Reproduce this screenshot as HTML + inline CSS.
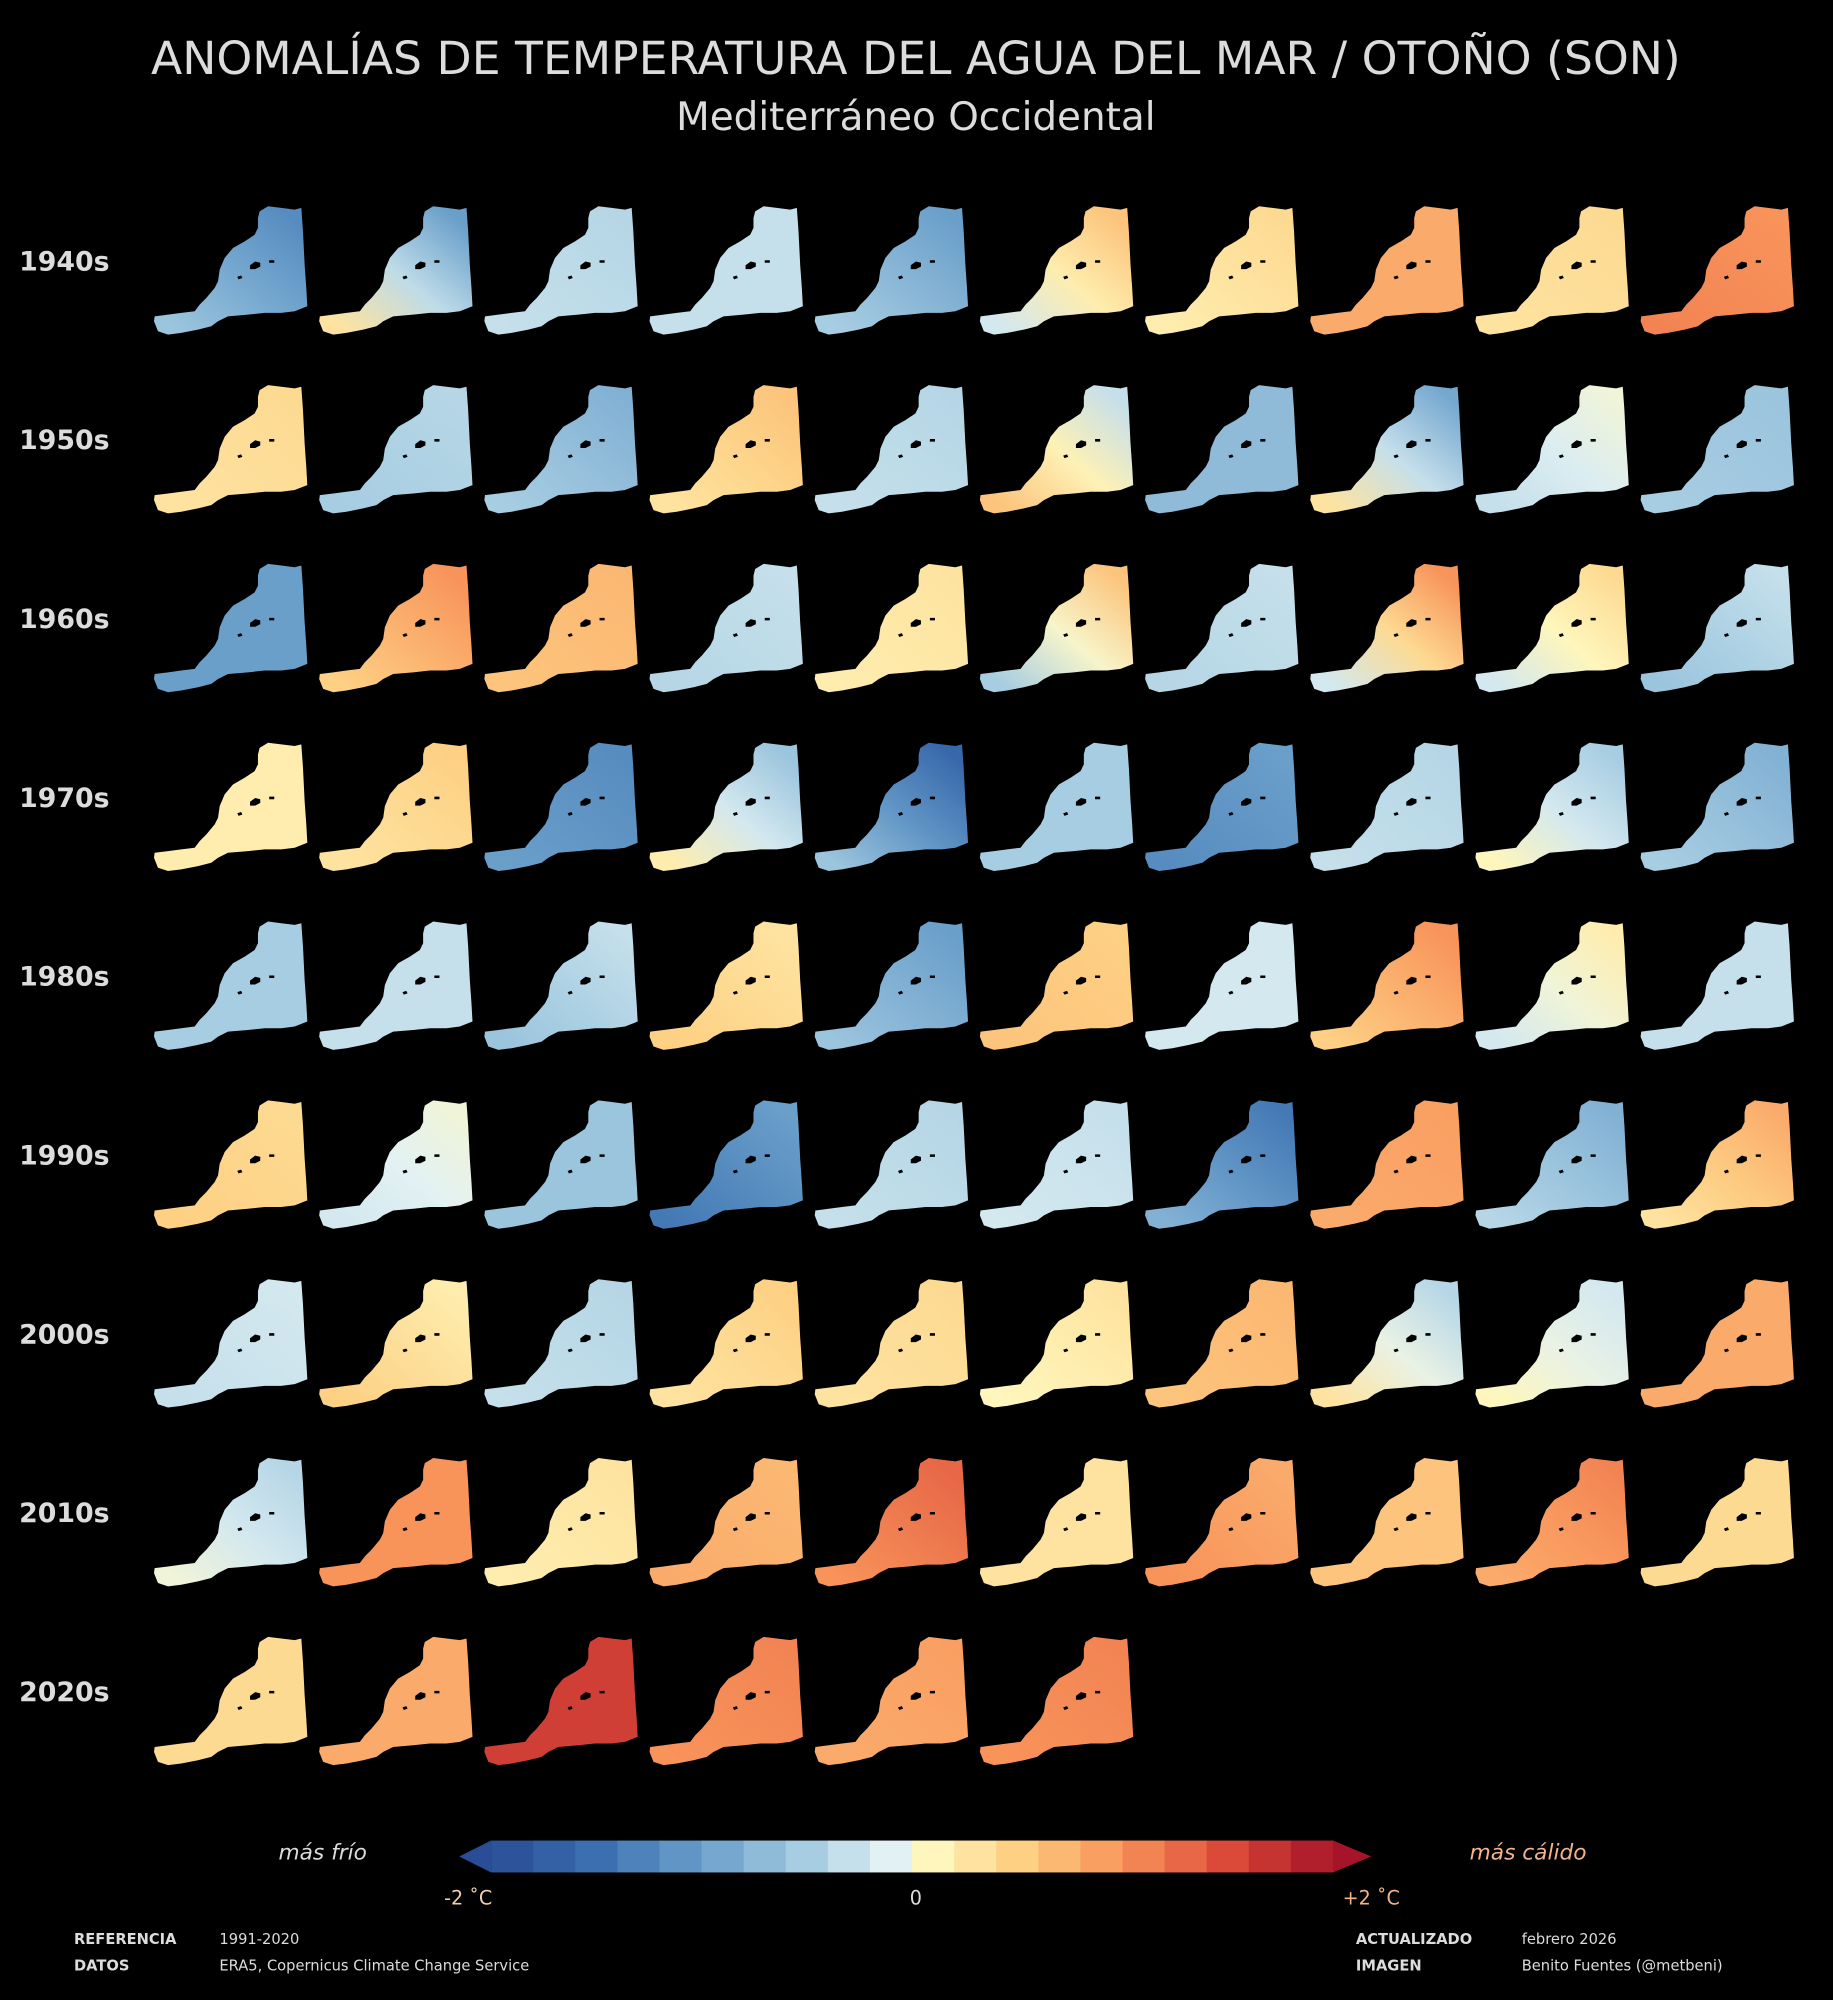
<!DOCTYPE html>
<html><head><meta charset="utf-8">
<style>
html,body{margin:0;padding:0;background:#000;}
svg{display:block;}
text{font-family:"DejaVu Sans","Liberation Sans",sans-serif;}
</style></head>
<body>
<svg id="s" width="1833" height="2000" viewBox="0 0 1437 1568" xmlns="http://www.w3.org/2000/svg">
<rect width="1437" height="1568" fill="#000"/>
<text x="718" y="58" text-anchor="middle" font-size="35.8" fill="#dcdcdc">ANOMALÍAS DE TEMPERATURA DEL AGUA DEL MAR / OTOÑO (SON)</text>
<text x="718" y="102" text-anchor="middle" font-size="30.5" fill="#dcdcdc">Mediterráneo Occidental</text>
<g id="maps"></g>
<g id="cb"></g>
<text x="253" y="1458" text-anchor="middle" font-size="17" font-style="italic" fill="#dcdcdc">más frío</text>
<text x="1198" y="1458" text-anchor="middle" font-size="17" font-style="italic" fill="#f4b48a">más cálido</text>
<text x="367" y="1493" text-anchor="middle" font-size="15" fill="#f0d0b0">-2 ˚C</text>
<text x="718" y="1493" text-anchor="middle" font-size="15" fill="#dcdcdc">0</text>
<text x="1075" y="1493" text-anchor="middle" font-size="15" fill="#f4b48a">+2 ˚C</text>
<g font-size="11.5" fill="#dcdcdc">
<text x="58" y="1524" font-weight="bold">REFERENCIA</text><text x="172" y="1524">1991-2020</text>
<text x="58" y="1545" font-weight="bold">DATOS</text><text x="172" y="1545">ERA5, Copernicus Climate Change Service</text>
<text x="1063" y="1524" font-weight="bold">ACTUALIZADO</text><text x="1193" y="1524">febrero 2026</text>
<text x="1063" y="1545" font-weight="bold">IMAGEN</text><text x="1193" y="1545">Benito Fuentes (@metbeni)</text>
</g>
</svg>
<script>
var stops=[[-2,[42,77,150]],[-1.5,[59,111,176]],[-1,[106,159,202]],[-0.5,[167,205,226]],[-0.1,[226,241,243]],[0.1,[254,246,188]],[0.5,[253,208,132]],[1,[248,147,90]],[1.5,[219,74,56]],[2,[166,20,42]]];
function col(v){v=Math.max(-2,Math.min(2,v));for(var i=0;i<stops.length-1;i++){var a=stops[i],b=stops[i+1];if(v<=b[0]){var t=(v-a[0])/(b[0]-a[0]);var c=a[1].map(function(x,k){return Math.round(x+(b[1][k]-x)*t)});return "rgb("+c.join(",")+")";}}return "rgb(166,20,42)";}
var data=[
[[-0.6,-1.2],[0.3,-1.0],[-0.3,-0.4],[-0.3,-0.3],[-0.5,-1.0],[-0.2,0.6],[0.2,0.4],[0.8,0.8],[0.3,0.4],[1.1,1.0]],
[[0.3,0.4],[-0.5,-0.4],[-0.5,-0.8],[0.3,0.6],[-0.3,-0.4],[0.6,-0.3],[-0.7,-0.7],[0.3,-0.9],[-0.3,0],[-0.5,-0.6]],
[[-1.0,-1.0],[0.5,1.0],[0.6,0.7],[-0.4,-0.3],[0.2,0.3],[-0.5,0.6],[-0.4,-0.3],[-0.2,1.0],[-0.2,0.4],[-0.6,-0.3]],
[[0.2,0.2],[0.3,0.5],[-1.0,-1.2],[0.2,-0.6],[-0.6,-1.6],[-0.5,-0.5],[-1.2,-1.0],[-0.3,-0.4],[0.1,-0.5],[-0.5,-0.8]],
[[-0.5,-0.5],[-0.3,-0.3],[-0.6,-0.3],[0.5,0.3],[-0.6,-1.0],[0.6,0.5],[-0.2,-0.2],[0.5,1.0],[-0.2,0.2],[-0.3,-0.3]],
[[0.5,0.4],[-0.2,0],[-0.6,-0.6],[-1.4,-1.0],[-0.3,-0.4],[-0.2,-0.3],[-0.8,-1.4],[0.8,0.9],[-0.4,-0.8],[0.3,0.8]],
[[-0.3,-0.2],[0.5,0.2],[-0.3,-0.4],[0.3,0.5],[0.3,0.4],[0.1,0.3],[0.6,0.7],[0.3,-0.4],[0.1,-0.2],[0.8,0.8]],
[[0.0,-0.4],[1.0,1.0],[0.2,0.3],[0.8,0.7],[1.0,1.3],[0.3,0.3],[1.0,0.8],[0.6,0.6],[0.8,1.1],[0.4,0.4]],
[[0.4,0.4],[0.8,0.8],[1.6,1.6],[1.0,1.1],[0.8,0.9],[1.0,1.1]]];
var path="M83.5,5.7 L90.1,1.7 L100.5,3 L111,4.3 L116.2,3 L117.5,21.3 L118.8,47.5 L120.1,65.8 L120.9,80.1 L111,84 L100.5,85.3 L87.5,85.3 L74.4,86.7 L58.7,88 L50.9,91.9 L45.6,95.8 L35.2,98.4 L22.1,101 L11.7,102.3 L3.8,99.7 L0.7,91.9 L1.2,88 L11.7,86.7 L22.1,85.3 L32.6,84 L36.5,78.8 L41.7,73.6 L48.3,65.7 L50.9,60.5 L52.2,51.4 L56.1,42.2 L62.6,34.4 L71.8,29.2 L79.6,24 L82.2,18.7 L82.2,10.9 Z";
var isl="M76,48 l4,-3 l4,1 l0,3 l-4,2 l-4,0z M91,44 l4,0 l0,2 l-4,0z M66,57 l3,-1 l1,2 l-3,1z";
var g=document.getElementById("maps"),h="",dec=["1940s","1950s","1960s","1970s","1980s","1990s","2000s","2010s","2020s"];
data.forEach(function(row,r){var y=160+r*140.2;h+='<text x="15" y="'+(y+52)+'" font-size="21" font-weight="bold" fill="#dcdcdc">'+dec[r]+'</text>';
row.forEach(function(v,c){var x=120+c*129.5,id="g"+r+"_"+c;
h+='<defs><linearGradient id="'+id+'" x1="0" y1="1" x2="1" y2="0"><stop offset="0.1" stop-color="'+col(v[0])+'"/><stop offset="0.5" stop-color="'+col((v[0]+v[1])/2)+'"/><stop offset="0.9" stop-color="'+col(v[1])+'"/></linearGradient></defs>';
h+='<g transform="translate('+x+','+y+')"><path d="'+path+'" fill="url(#'+id+')"/><path d="'+isl+'" fill="#000"/></g>';});});
g.innerHTML=h;
var cb="",x0=385,x1=1045,n=20,w=(x1-x0)/n;
for(var i=0;i<n;i++){cb+='<rect x="'+(x0+i*w)+'" y="1443" width="'+(w+0.5)+'" height="25" fill="'+col(-2+(i+0.5)*4/n)+'"/>';}
cb+='<polygon points="385,1443 360,1455.5 385,1468" fill="'+col(-2)+'"/><polygon points="1045,1443 1075,1455.5 1045,1468" fill="'+col(2)+'"/>';
document.getElementById("cb").innerHTML=cb;
</script>
</body></html>
